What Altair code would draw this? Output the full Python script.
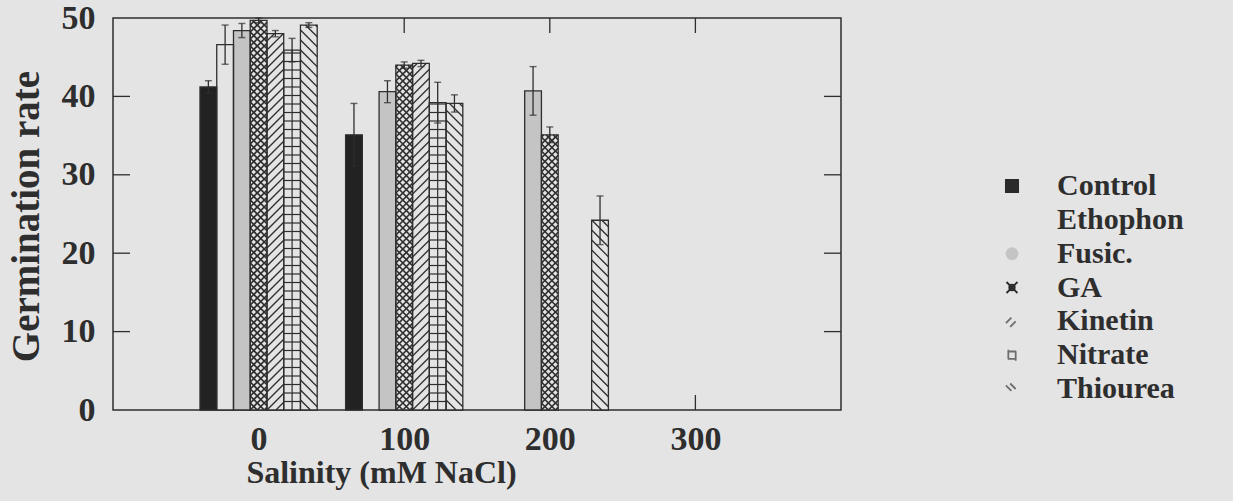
import altair as alt
import numpy as np
import pandas as pd

# ---------------- data ----------------
treatments = ["Control", "Ethophon", "Fusic.", "GA", "Kinetin", "Nitrate", "Thiourea"]
salinity = [0, 100, 200, 300]
mean_control = [41.2, 35.1, None, None]
mean_ethophon = [46.6, None, None, None]
mean_fusic = [48.4, 40.6, 40.7, None]
mean_ga = [49.7, 44.0, 35.1, None]
mean_kinetin = [48.0, 44.2, None, None]
mean_nitrate = [45.9, 39.2, None, None]
mean_thiourea = [49.1, 39.1, 24.2, None]
err_control = [0.8, 4.0, None, None]
err_ethophon = [2.5, None, None, None]
err_fusic = [0.9, 1.4, 3.1, None]
err_ga = [0.3, 0.4, 1.0, None]
err_kinetin = [0.4, 0.4, None, None]
err_nitrate = [1.5, 2.6, None, None]
err_thiourea = [0.3, 1.1, 3.1, None]

x_ticks = [0, 100, 200, 300]
y_ticks = [0, 10, 20, 30, 40, 50]
y_minor = [10, 20, 30, 40]

means = [mean_control, mean_ethophon, mean_fusic, mean_ga, mean_kinetin, mean_nitrate, mean_thiourea]
errs = [err_control, err_ethophon, err_fusic, err_ga, err_kinetin, err_nitrate, err_thiourea]

# ---------------- layout / style ----------------
PLOT_W, PLOT_H = 728, 392
X_DOM, Y_DOM = [-100, 400], [0, 50]
BAR_W = 11.5  # in salinity units
BG = "#e4e4e4"
INK = "#2e2e2e"
FONT = "Liberation Serif"
LEG_SYM_X, LEG_TXT_X = 899, 944
LEG_Y_RANGE = [168, 371]

rows = []
for i, t in enumerate(treatments):
    for s, m, e in zip(salinity, means[i], errs[i]):
        if m is None:
            continue
        x0 = s + (i - 3.5) * BAR_W
        rows.append(dict(treatment=t, salinity=s, value=m, err=e,
                         x0=x0, x1=x0 + BAR_W, xc=x0 + BAR_W / 2,
                         lo=m - e, hi=m + e))
bars = pd.DataFrame(rows)

# ---------------- hatch patterns derived from the bars ----------------
sx = PLOT_W / (X_DOM[1] - X_DOM[0])
sy = PLOT_H / (Y_DOM[1] - Y_DOM[0])
patterns = {
    "GA": [("up", 7.0, 1.7), ("down", 7.0, 1.7)],
    "Kinetin": [("up", 9.0, 1.3)],
    "Nitrate": [("h", 8.5, 1.2), ("v", None, 1.2)],
    "Thiourea": [("down", 10.0, 1.3)],
}
hatch = []
for _, r in bars.iterrows():
    for kind, step, w in patterns.get(r.treatment, []):
        X0 = (r.x0 - X_DOM[0]) * sx
        W = BAR_W * sx
        H = r.value * sy
        segs = []
        if kind == "up":
            for c in np.arange(-np.ceil(W / step) * step, H, step):
                tlo, thi = max(0, -c), min(W, H - c)
                if thi - tlo > 0.3:
                    segs.append((X0 + tlo, c + tlo, X0 + thi, c + thi))
        elif kind == "down":
            for c in np.arange(step, H + W, step):
                tlo, thi = max(0, c - H), min(W, c)
                if thi - tlo > 0.3:
                    segs.append((X0 + tlo, c - tlo, X0 + thi, c - thi))
        elif kind == "h":
            for yv in np.arange(step, H, step):
                segs.append((X0, yv, X0 + W, yv))
        elif kind == "v":
            segs.append((X0 + W / 2, 0, X0 + W / 2, H))
        for a, b, c2, d in segs:
            hatch.append(dict(hx=a / sx + X_DOM[0], hy=b / sy, hx2=c2 / sx + X_DOM[0], hy2=d / sy, w=w))
hatch = pd.DataFrame(hatch)

xs = alt.Scale(domain=X_DOM, nice=False, zero=False)
ys = alt.Scale(domain=Y_DOM, nice=False, zero=False)

fill_range = ["#222222", BG, "#c4c4c4", BG, BG, BG, BG]

# legend glyphs (custom SVG paths in the [-1, 1] box)
SQ = "".join(f"M{-k},{-k}H{k}V{k}H{-k}Z" for k in [1, 0.75, 0.5, 0.25, 0.05])
CI = "".join(f"M{-k},0A{k},{k} 0 1,0 {k},0A{k},{k} 0 1,0 {-k},0Z" for k in [0.9, 0.65, 0.4, 0.15])
legend_shapes = [
    SQ,
    "M-1,-1H1V1H-1Z",
    CI,
    "M-0.45,0A0.45,0.45 0 1,0 0.45,0A0.45,0.45 0 1,0 -0.45,0M-0.9,-0.9L0.9,0.9M-0.9,0.9L0.9,-0.9",
    "M-1,0.3L-0.1,-0.6M-0.3,0.9L0.6,0",
    "M-0.7,-0.6H0.7M-0.7,0.6H0.7M-0.6,-0.9V0.6M0.6,-0.6V0.9",
    "M-1,-0.6L-0.1,0.3M-0.3,-0.9L0.6,0",
]
legend_strokes = ["#2a2a2a", BG, "#c4c4c4", "#2a2a2a", "#6e6e6e", "#6e6e6e", "#6e6e6e"]

x_enc = alt.X("x0:Q", scale=xs, axis=alt.Axis(
    values=x_ticks, ticks=False, domain=False, grid=False, labelFlush=False,
    labelFont=FONT, labelFontSize=34, labelFontWeight="bold", labelColor=INK, labelPadding=12,
    title="Salinity (mM NaCl)", titleFont=FONT, titleFontSize=32, titleFontWeight="bold",
    titleColor=INK, titleX=268, titleY=62, titleBaseline="middle", titleAlign="center"))
y_enc = alt.Y("value:Q", scale=ys, axis=alt.Axis(
    values=y_ticks, ticks=False, domain=False, grid=False, labelFlush=False,
    labelFont=FONT, labelFontSize=34, labelFontWeight="bold", labelColor=INK, labelPadding=18,
    title="Germination rate", titleFont=FONT, titleFontSize=39, titleFontWeight="bold",
    titleColor=INK, titleX=-87, titleY=198, titleAngle=270, titleBaseline="middle", titleAlign="center"))

base_bars = alt.Chart(bars)
fill_layer = base_bars.mark_bar(strokeWidth=0).encode(
    x=x_enc, x2="x1:Q", y=y_enc, y2=alt.datum(0),
    fill=alt.Fill("treatment:N", scale=alt.Scale(domain=treatments, range=fill_range), legend=None),
)
hatch_layer = alt.Chart(hatch).mark_rule(color="#2e2e2e").encode(
    x=alt.X("hx:Q", scale=xs), x2="hx2:Q", y=alt.Y("hy:Q", scale=ys), y2="hy2:Q",
    strokeWidth=alt.StrokeWidth("w:Q", scale=None))
outline_layer = base_bars.mark_bar(fillOpacity=0, stroke=INK, strokeWidth=1.3).encode(
    x=alt.X("x0:Q", scale=xs), x2="x1:Q", y=alt.Y("value:Q", scale=ys), y2=alt.datum(0))
err_rule = base_bars.mark_rule(color=INK, strokeWidth=1.3).encode(
    x=alt.X("xc:Q", scale=xs), y=alt.Y("lo:Q", scale=ys), y2="hi:Q")
cap_hi = base_bars.mark_tick(orient="horizontal", size=7, thickness=1.4, color=INK).encode(
    x=alt.X("xc:Q", scale=xs), y=alt.Y("hi:Q", scale=ys))
cap_lo = base_bars.mark_tick(orient="horizontal", size=7, thickness=1.4, color=INK).encode(
    x=alt.X("xc:Q", scale=xs), y=alt.Y("lo:Q", scale=ys))

xt = pd.DataFrame({"t": x_ticks})
yt = pd.DataFrame({"t": y_minor})
tick_bottom = alt.Chart(xt).mark_rule(color=INK, strokeWidth=1.3).encode(
    x=alt.X("t:Q", scale=xs), y=alt.value(PLOT_H), y2=alt.value(PLOT_H - 15))
tick_top = alt.Chart(xt).mark_rule(color=INK, strokeWidth=1.3).encode(
    x=alt.X("t:Q", scale=xs), y=alt.value(0), y2=alt.value(15))
tick_left = alt.Chart(yt).mark_rule(color=INK, strokeWidth=1.3).encode(
    y=alt.Y("t:Q", scale=ys), x=alt.value(0), x2=alt.value(17))
tick_right = alt.Chart(yt).mark_rule(color=INK, strokeWidth=1.3).encode(
    y=alt.Y("t:Q", scale=ys), x=alt.value(PLOT_W - 17), x2=alt.value(PLOT_W))

main = alt.layer(
    tick_bottom, tick_top, tick_left, tick_right,
    fill_layer, hatch_layer, outline_layer, err_rule, cap_hi, cap_lo
)

# ---------------- legend (built from the treatment list) ----------------
leg_df = pd.DataFrame({"treatment": treatments})
leg_y = alt.Y("treatment:N", scale=alt.Scale(type="point", domain=treatments, range=LEG_Y_RANGE, padding=0),
              axis=None)
leg_sym = alt.Chart(leg_df).mark_point(filled=False, size=150, strokeWidth=1.8, opacity=1).encode(
    x=alt.value(LEG_SYM_X), y=leg_y,
    shape=alt.Shape("treatment:N", scale=alt.Scale(domain=treatments, range=legend_shapes), legend=None),
    stroke=alt.Stroke("treatment:N", scale=alt.Scale(domain=treatments, range=legend_strokes), legend=None),
)
leg_txt = alt.Chart(leg_df).mark_text(
    align="left", baseline="middle", font=FONT, fontSize=30, fontWeight="bold", color=INK).encode(
    x=alt.value(LEG_TXT_X), y=leg_y, text="treatment:N")
legend = alt.layer(leg_sym, leg_txt)

chart = alt.layer(main, legend).resolve_scale(y="independent").properties(
    width=PLOT_W, height=PLOT_H,
    padding={"left": 113, "top": 18, "right": 1233 - 113 - PLOT_W, "bottom": 501 - 18 - PLOT_H},
    autosize=alt.AutoSizeParams(type="none"),
    background=BG,
).configure_view(stroke=INK, strokeWidth=1.5)

chart.save("out.html", embed_options={"renderer": "svg", "actions": False})
